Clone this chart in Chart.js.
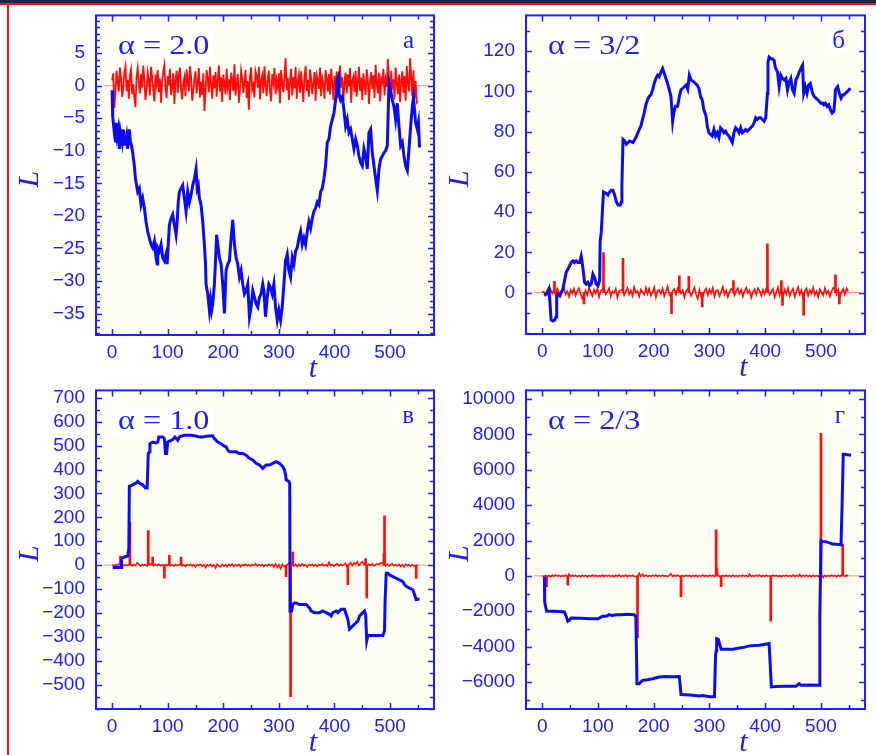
<!DOCTYPE html>
<html lang="ru">
<head>
<meta charset="UTF-8">
<title>L(t) для разных alpha</title>
<script src="https://cdn.jsdelivr.net/npm/chart.js"></script>
<style>
    body {
        margin: 0;
        width: 876px;
        height: 755px;
        background: #ffffff;
        position: relative;
        overflow: hidden;
    }
    .top-band { position: absolute; left: 0; top: 0; width: 876px; height: 3px; background: #1b2352; }
    .top-red { position: absolute; left: 0; top: 3px; width: 876px; height: 2px; background: #e8141c; }
    .left-red { position: absolute; left: 7px; top: 3px; width: 2px; height: 752px; background: #e8141c; }
    canvas { position: absolute; }
</style>
</head>
<body>
<div class="top-band"></div>
<div class="top-red"></div>
<div class="left-red"></div>

<canvas id="panelA" width="438" height="380" style="left:6px; top:1px;"></canvas>
<canvas id="panelB" width="439" height="379" style="left:436px; top:1px;"></canvas>
<canvas id="panelC" width="438" height="379" style="left:6px; top:376px;"></canvas>
<canvas id="panelD" width="439" height="379" style="left:436px; top:376px;"></canvas>

<script>
// ---- data ----
// common time axis
const X_RANGE = [-29, 579];
const X_TICKS = [0, 100, 200, 300, 400, 500];
const ZERO_SPAN = [-15, 570];   // extent of the thin L = 0 reference line

// (a) alpha = 2.0
const yTicksA = [-35, -30, -25, -20, -15, -10, -5, 0, 5];
const blueA = [
    [0,-0.7],[1,-4.7],[4,-7.2],[6,-8.7],[7,-5.7],[9,-7.7],[11,-6.7],[13,-9.7],[15,-7.2],[18,-8.7],
    [20,-6.7],[22,-8.2],[23,-9.2],[26,-7.7],[28,-9.7],[31,-6.7],[33,-8.7],[35,-9.2],[37,-10.3],[40,-12.3],
    [42,-14.3],[43,-14.8],[46,-16.3],[49,-15.8],[52,-18.3],[55,-17.3],[58,-18.8],[61,-20.9],[64,-22.4],[67,-23.4],
    [70,-24.4],[73,-24.9],[76,-23.9],[79,-26.4],[81,-27.4],[82,-24.9],[85,-25.4],[88,-24.4],[91,-26.4],[94,-26.9],
    [97,-25.9],[99,-27.4],[101,-24.4],[103,-21.4],[106,-20.4],[109,-19.8],[112,-21.4],[115,-22.9],[117,-20.9],[119,-17.8],
    [121,-16.3],[124,-15.8],[127,-15.3],[130,-17.3],[133,-19.3],[136,-16.3],[139,-17.9],[142,-16.8],[145,-15.3],[148,-14.3],
    [151,-12.8],[153,-15.8],[155,-15.3],[157,-17.3],[160,-18.3],[163,-20.9],[166,-24.4],[168,-27.4],[169,-30.5],[172,-32.0],
    [175,-34.5],[177,-32.9],[179,-34.5],[181,-33.5],[184,-30.5],[186,-26.9],[188,-22.9],[190,-24.4],[193,-26.4],[196,-27.4],
    [199,-30.5],[202,-35.0],[205,-28.4],[208,-27.4],[211,-26.9],[214,-23.4],[217,-20.6],[220,-24.4],[223,-26.4],[226,-27.4],
    [229,-29.4],[232,-28.4],[235,-30.5],[238,-32.0],[241,-31.5],[244,-30.5],[247,-35.5],[250,-34.0],[253,-31.5],[256,-32.5],
    [259,-33.5],[262,-34.0],[265,-32.5],[268,-32.0],[271,-30.5],[273,-31.5],[276,-35.5],[279,-32.5],[282,-30.5],[285,-31.0],
    [288,-32.0],[291,-30.5],[294,-34.0],[297,-36.0],[300,-34.5],[303,-36.0],[306,-34.0],[309,-30.5],[312,-26.9],[315,-25.9],
    [318,-28.4],[321,-29.4],[324,-26.4],[327,-27.4],[330,-25.4],[333,-24.9],[336,-23.4],[339,-22.4],[342,-24.4],[345,-23.4],
    [348,-24.4],[351,-22.4],[354,-20.9],[357,-21.9],[360,-20.4],[363,-19.3],[366,-18.8],[369,-17.9],[372,-18.3],[375,-16.3],
    [378,-15.8],[381,-14.3],[384,-12.3],[387,-8.7],[390,-8.2],[393,-6.2],[396,-5.2],[399,-4.2],[402,-2.2],[405,0.9],
    [407,1.4],[408,-1.2],[411,-2.2],[414,-1.7],[417,-3.7],[420,-6.2],[423,-5.2],[426,-7.2],[429,-6.7],[432,-8.2],
    [435,-9.7],[438,-8.2],[441,-9.2],[444,-10.8],[447,-11.8],[450,-12.3],[453,-9.7],[456,-10.8],[459,-12.8],[462,-7.2],
    [465,-6.7],[468,-10.3],[471,-12.3],[474,-14.3],[477,-16.1],[480,-12.8],[483,-11.3],[486,-10.8],[489,-10.3],[492,-10.0],
    [495,-9.2],[498,0.4],[501,-0.7],[504,-2.2],[507,-3.2],[510,-5.2],[513,-2.7],[516,-6.2],[519,-9.2],[522,-8.7],
    [525,-10.8],[528,-12.3],[531,-13.0],[534,-9.7],[537,-6.2],[540,-3.2],[542,-1.9],[544,-3.7],[546,-5.7],[549,-6.7],
    [551,-5.7],[553,-9.5]
];
const dtA = 2;
const redA = [
    0.8, 1.9, -3.4, -1.1, 2.3, 0.6, -0.9, 2.8, 1.2, -1.7, -0.4, 2.1, 3.0, -0.8, 0.9, -2.0, 1.6, 2.5, -1.3, 0.2,
    -1.8, -3.3, 1.4, 2.7, 0.5, -1.2, 1.8, -0.3, 3.1, 1.0, -2.2, -0.6, 2.0, 0.8, -1.5, 2.9, 1.3, -0.7, -2.4, 1.7,
    0.3, 2.4, -1.0, 1.1, -2.6, 0.7, 2.2, 3.2, -0.5, -1.9, 1.5, 0.1, 2.6, -1.4, -0.2, 1.9, -2.8, 0.9, 2.3, -1.1,
    1.6, 2.8, -0.6, -2.1, 0.4, 1.3, -1.6, 2.5, 0.7, -0.9, 3.0, 1.4, -2.3, -0.8, 1.0, 2.2, -1.2, 0.5, 2.7, -1.8,
    0.6, -1.4, 1.9, -3.9, -0.7, 2.4, 1.1, -1.0, 2.9, 0.2, -2.0, 1.6, -0.4, 2.1, -1.7, 0.8, 3.1, -0.9, 1.3, -2.5,
    1.7, 0.4, -1.3, 2.6, -0.2, 1.0, -2.2, 2.0, 0.9, -0.8, 3.3, -1.5, 0.3, 1.8, -2.6, -0.5, 2.3, 1.2, -1.1, 0.6,
    2.4, -1.9, 0.7, -3.7, 1.5, 2.8, -0.6, 0.1, -1.8, 2.2, 1.4, -0.3, 2.9, -2.1, 0.8, 1.6, -1.2, 3.0, 0.2, -1.6,
    1.1, 2.3, -0.9, -2.4, 1.8, 0.5, 2.7, -1.3, 0.9, -0.2, 1.9, -2.7, 2.4, 0.3, -1.0, 1.5, 4.2, -0.7, 1.2, -2.2,
    0.7, 2.6, -1.5, 1.3, -0.4, 2.9, -2.0, 0.6, 1.7, -1.1, 2.2, 0.0, -2.5, 1.4, 3.0, -0.8, 0.9, -1.7, 2.5, 1.0,
    -1.3, 0.4, 2.1, -2.3, 1.6, 0.8, -0.5, 2.8, -1.6, 1.2, 0.3, -2.0, 2.4, 1.1, -0.9, 1.8, -1.4, 2.6, 0.5, -2.2,
    1.5, -0.6, 2.2, -1.9, 0.9, 3.1, -0.3, 1.3, -2.4, 0.6, 2.0, -1.2, 1.7, -0.1, 2.7, -2.6, 0.8, 1.4, -1.0, 2.3,
    -1.7, 0.5, 2.9, -0.8, 1.2, -2.2, 1.9, 0.2, -1.4, 2.5, 1.0, -2.8, 0.7, 2.1, -0.5, 1.6, -1.9, 3.2, 0.4, -1.2,
    2.0, -2.4, 1.1, 0.6, 2.6, -1.5, 0.9, -0.2, 4.1, 1.3, -1.8, 2.3, -0.6, 1.0, -2.1, 2.8, 0.4, -1.3, 1.7, -2.5,
    0.8, 2.2, -1.1, 1.5, -2.3, 3.0, 0.6, -0.9, 4.2, 1.2, -1.6, 2.4, -2.0, 0.7, -2.6, -2.4
];
const spikesA = [];

// (б) alpha = 3/2
const yTicksB = [0, 20, 40, 60, 80, 100, 120];
const blueB = [
    [4,-1.5],[8,-0.5],[12,1.8],[14,-5],[16,-13.7],[19,-14.2],[22,-13.7],[25,-12.1],[26,-2.3],[28,-0.7],
    [31,-1.5],[37,1.5],[40,5.9],[43,10],[46,11.6],[49,13.2],[52,14.9],[55,15.7],[58,14.9],[61,15.7],
    [64,14.9],[67,14.9],[70,18.1],[73,12.4],[76,5.1],[79,4.2],[82,5.1],[85,3.4],[88,4.2],[91,9.2],
    [94,7.5],[97,4.2],[100,3.4],[103,5.9],[104,25.5],[106,30],[108,40.2],[110,50],[115,49.2],[118,48.4],
    [121,50],[124,50.8],[127,50.8],[130,48.4],[133,45.1],[136,43.5],[140,43.5],[142,45],[143,53.3],[145,76.1],
    [148,75.3],[151,73.7],[157,75.3],[163,74.5],[168,77],[174,81],[177,82.7],[180,86],[183,89.2],[186,93.3],
    [189,95.8],[192,97.4],[195,98.2],[198,100.7],[201,103.9],[204,106.4],[207,108],[210,107.2],[213,109.6],[216,111.3],
    [219,108.8],[222,106.4],[225,103.9],[228,100.7],[231,97.4],[234,85.1],[236,89.2],[239,92.5],[243,92.5],[246,97.4],
    [249,100.7],[252,101.5],[258,103.1],[261,101],[264,108],[267,105.6],[272,104.7],[278,103.1],[281,101.5],[284,97.4],
    [287,95.8],[290,90.8],[294,87.6],[296,82.7],[299,79.4],[302,78.6],[305,77.8],[308,81],[311,77.8],[314,79.4],
    [317,77],[320,81.9],[323,81],[326,79.4],[329,80.2],[332,78.6],[335,77.8],[338,76.1],[341,74.5],[344,79.4],
    [347,81.9],[350,81],[353,79.4],[356,81.9],[359,79.4],[362,80.2],[365,81],[368,80.2],[371,81],[374,81.9],
    [377,82.7],[380,84.3],[383,86.8],[386,86],[389,86.8],[392,86.8],[395,86],[398,85.1],[401,86.8],[404,99],
    [405,114.5],[407,117],[410,116.2],[413,116.2],[416,115.4],[418,112],[422,109.6],[425,102.3],[428,108],[431,106.4],
    [434,105.6],[437,106.4],[440,100.7],[443,104.7],[446,106.4],[449,100.7],[452,99],[455,105.6],[458,107.2],[461,109.6],
    [464,111.3],[467,112.9],[469,99],[472,102.3],[475,99],[478,103.1],[481,103.9],[485,99],[488,97.4],[491,96.6],
    [494,95.8],[497,95],[500,94.1],[503,94.1],[505,93.3],[508,94.1],[511,92.5],[514,93.3],[517,90.8],[520,89.2],
    [523,90],[525,95.8],[526,100.7],[530,102.3],[533,99],[536,96.6],[539,98.2],[541,98.2],[544,99],[547,99.8],
    [550,100.7],[553,101.5]
];
const dtB = 3;
const redB = [
    0.0, 0.5, -1.2, 0.8, -2.3, 1.5, -0.6, 1.2, -1.4, 2.0, 0.3, -1.8, 1.1, 2.4, -0.9, 0.6, -2.1, 1.3, -0.4, 1.9,
    -1.5, 0.7, 2.2, -0.8, -3.0, -1.6, 1.0, -1.2, 2.5, 0.2, -1.7, 1.4, -0.5, 2.0, -2.2, 0.9, 1.6, 2.1, -1.0, 0.4,
    2.1, -1.9, 0.6, -0.3, 1.8, -2.5, 0.8, 1.2, 1.5, -1.4, 0.5, 2.3, -0.9, 1.0, -1.6, 2.8, -0.2, 0.7, -2.0, 1.5,
    0.3, -1.1, 2.4, -0.7, 1.9, -1.5, 0.1, 2.6, -2.3, 0.9, 1.3, -0.6, 2.0, -1.8, 0.4, 3.0, -1.2, -2.1, 0.8, 1.7,
    -1.0, 2.2, 1.3, -0.5, 1.1, -2.4, 0.6, 1.8, 1.0, -1.6, 0.2, 2.5, -0.8, -3.1, 1.4, -1.9, -2.2, 0.7, 2.0, -1.3,
    1.6, -0.4, 2.3, -2.0, 0.9, 1.2, -1.7, 0.5, 2.8, -0.9, 1.0, -2.2, 0.3, 1.9, 1.1, -1.4, 0.8, 2.1, -0.6, 1.4,
    -1.9, 0.6, 2.4, -0.3, 1.1, -2.6, 0.4, 1.7, -1.0, 2.2, 0.9, -1.5, 1.3, -0.7, 2.0, 1.4, -1.1, 0.5, 1.8, -2.4,
    0.2, 2.6, -1.3, 1.5, -1.9, 1.5, -0.8, 2.3, -1.7, 0.6, 1.9, -2.1, 0.4, 2.7, -0.9, 1.2, -2.8, 0.8, 2.0, -1.5,
    1.3, -0.5, 2.5, -1.2, 0.7, -2.3, 1.6, 0.1, -1.4, 2.2, -0.6, 1.0, -1.9, 0.5, 2.4, 1.7, -0.9, 1.5, -2.0, 0.3,
    1.8, -1.0, 2.1, 0.6
];
const spikesB = [
    [22, 5.6], [75, -5.6], [110, 19.8], [145, 17.0], [232, -10.5], [246, 8.3], [263, 8.0],
    [287, -7.2], [343, 5.9], [404, 24.2], [429, 5.9], [431, -6.4], [469, -11.3], [526, 8.8], [533, -5.6]
];

// (в) alpha = 1.0
const yTicksC = [-500, -400, -300, -200, -100, 0, 100, 200, 300, 400, 500, 600, 700];
const blueC = [
    [1,-10],[16,-10],[17,27],[22,34],[28,38],[30,69],[31,330],[34,333],[40,340],[43,343],
    [46,350],[49,343],[55,336],[60,323],[63,323],[65,467],[67,474],[68,508],[73,515],[79,511],
    [82,515],[84,536],[86,536],[91,536],[94,529],[96,467],[98,467],[100,515],[106,522],[109,525],
    [113,536],[118,522],[121,536],[124,539],[130,543],[136,543],[142,543],[151,540],[157,536],[163,536],
    [169,539],[175,540],[181,541],[184,529],[190,515],[196,508],[199,502],[205,495],[208,481],[211,474],
    [217,474],[223,474],[229,467],[235,467],[241,460],[247,447],[253,440],[259,426],[265,419],[271,405],
    [274,412],[277,419],[283,419],[289,426],[295,433],[301,426],[304,419],[307,412],[310,398],[312,378],
    [313,357],[318,350],[319.5,340],[320,-192],[323,-192],[325,-165],[328,-158],[331,-158],[337,-165],[343,-165],
    [349,-165],[355,-179],[358,-192],[364,-199],[373,-199],[379,-192],[385,-199],[391,-206],[394,-213],[397,-199],
    [403,-192],[406,-199],[412,-185],[418,-185],[421,-206],[424,-227],[427,-268],[430,-261],[433,-254],[436,-247],
    [439,-240],[442,-234],[445,-213],[448,-206],[451,-199],[454,-192],[456,-206],[458,-316],[460,-295],[463,-295],
    [469,-295],[475,-295],[484,-295],[487,-295],[490,-275],[491,-151],[493,-34],[496,-34],[499,-41],[505,-48],
    [511,-55],[517,-62],[523,-69],[526,-82],[529,-89],[535,-96],[541,-103],[544,-124],[547,-144],[553,-142]
];
const dtC = 3;
const redC = [
    0, -2, 2, -3, 4, 2, 3, -2, 1, -2, 3, 5, -3, 2, -2, 10, 3, -4, 2, -1,
    3, -4, 6, 2, 8, -3, 4, -2, 5, -3, 2, -6, 3, -2, 4, -3, 2, -5, 3, -2,
    2, 5, -3, 2, -6, 3, -2, 4, -4, 2, -8, 3, -2, 4, -5, 2, -10, 2, -3, 3,
    -6, 2, -12, 4, -3, -8, 3, -5, 2, -7, 3, -3, 5, -6, 2, -4, 3, -7, 2, -2,
    4, -3, 2, -5, 3, -2, 6, -4, 2, -3, 3, -6, 2, -4, 4, -2, 3, -8, 5, -10,
    2, -15, 4, -6, -5, 3, 8, -10, 5, -5, 4, -7, 3, -4, 5, -3, 2, -9, 3, -2,
    4, -4, 2, -6, 3, -2, 5, -3, 2, -4, 12, -2, 3, -5, 2, 6, -3, 4, -2, 2,
    8, -5, 3, 12, -2, 10, 4, 14, -2, 8, 15, 3, 6, -4, 4, -2, 5, -4, 2, 6,
    3, 10, 8, 12, -3, 4, -5, 2, 6, -3, 2, -4, 3, -6, 2, -8, 4, -3, 2, -5,
    2, -4, -5, 2
];
const spikesC = [
    [15, 38], [32, 179], [65, 144], [73, 34], [94, -55], [103, 41], [124, 34], [313, -48],
    [321, -550], [325, 55], [424, -82], [456, 27], [458, -137], [489, 48], [490, 206], [547, -55]
];

// (г) alpha = 2/3
const yTicksD = [-6000, -4000, -2000, 0, 2000, 4000, 6000, 8000, 10000];
const blueD = [
    [4,-56],[4.5,-1450],[6,-1700],[8,-2007],[20,-2007],[30,-2020],[40,-2045],[43,-2286],[46,-2565],[49,-2500],
    [52,-2379],[70,-2400],[85,-2420],[100,-2420],[103,-2379],[108,-2290],[115,-2290],[120,-2193],[125,-2240],[133,-2200],
    [142,-2193],[152,-2170],[165,-2193],[168,-2300],[170,-6097],[174,-6097],[180,-5911],[189,-5870],[198,-5818],[210,-5725],
    [222,-5690],[234,-5700],[246,-5688],[249,-6710],[258,-6720],[270,-6747],[282,-6790],[288,-6770],[300,-6840],[309,-6840],
    [311,-4500],[312,-4238],[313,-3550],[316,-3587],[321,-4145],[330,-4145],[342,-4145],[354,-4080],[363,-4030],[372,-3959],
    [390,-3920],[407,-3829],[409,-5000],[411,-6283],[420,-6260],[437,-6245],[455,-6245],[461,-6100],[464,-6190],[480,-6170],
    [497,-6190],[498,-2379],[500,1989],[503,1950],[509,1933],[521,1800],[533,1780],[536,1747],[538,4126],[540,6877],
    [545,6860],[554,6822]
];
const dtD = 3;
const redD = [
    0, -40, 30, -80, 20, -50, 40, -30, 60, -20, 30, -45, 25, -35, 50, -90, 110, -30, 40, -25,
    35, -40, 20, -55, 45, -20, 30, -60, 25, -35, 50, -25, 40, -45, 20, -30, 55, -40, 30, -20,
    45, -35, 25, -50, 35, -25, 60, -40, 20, -30, 45, -55, 30, -20, 40, -35, -40, -60, 150, -40,
    110, -30, 50, -45, 25, -35, 40, -20, 55, -40, 30, -25, 45, -30, 20, -50, 35, 130, -30, 40,
    -25, 50, -35, -80, 30, -40, 45, -20, 35, -55, 25, -30, 40, -45, 20, -35, 50, -25, 30, -40,
    45, -20, 35, -50, 80, 60, -40, -70, 30, -25, 40, -35, 25, -45, 50, -30, 20, -40, 35, -25,
    45, -30, 30, -50, 100, -40, 25, -35, 40, -20, 55, -45, 30, -25, 40, -35, 20, -60, 45, -30,
    35, -40, 25, -50, 30, -20, 45, -35, 20, -30, 50, -40, 35, -25, 80, -45, 30, -20, 40, -35,
    25, -50, 45, -30, 20, -40, 60, 60, -100, 35, -45, 25, -30, 40, -20, 30, -50, 35, -25, 45,
    40, -30, 40, -20
];
const spikesD = [
    [8, -613], [46, -520], [171, -3494], [249, -1171], [312, 2602], [313.5, 450],
    [321, -613], [410, -2565], [500, 8067], [539, 1803]
];

// ---- styling ----
const BLUE = '#0c0cf2';
const RED = '#ff0c0c';
const ZERO_COLOR = '#ff8c8c';
const FRAME = '#1e1eff';
const TEXT = '#2020f0';
const PLOT_BG = '#fdfdf3';
const SANS = '"Liberation Sans", Arial, sans-serif';
const SERIF = '"Liberation Serif", "Times New Roman", serif';

function pairs(arr) {
    return arr.map(p => ({ x: p[0], y: p[1] }));
}

function sampled(vals, dt) {
    return vals.map((v, i) => ({ x: i * dt, y: v }));
}

function tickText(v) {
    return String(v).replace('-', '\u2212');
}

// background, frame with inward ticks on all sides, panel labels
const decoPlugin = {
    id: 'deco',
    beforeDraw(chart, args, o) {
        const { ctx, chartArea: a } = chart;
        ctx.save();
        ctx.fillStyle = PLOT_BG;
        ctx.fillRect(a.left, a.top, a.right - a.left, a.bottom - a.top);
        ctx.fillStyle = '#ffffff';
        ctx.fillRect(a.left + 17, a.top + 16, 100, 30);
        ctx.fillRect(a.right - 36, a.top + 17, 18, 20);
        ctx.restore();
    },
    afterDraw(chart, args, o) {
        const { ctx, chartArea: a, scales: { x, y } } = chart;
        ctx.save();
        ctx.strokeStyle = FRAME;
        ctx.lineWidth = 1.5;
        ctx.beginPath();
        for (let k = Math.ceil(y.min / o.yMinor); k * o.yMinor <= y.max; k++) {
            const v = k * o.yMinor;
            const py = Math.round(y.getPixelForValue(v)) + 0.5;
            const len = o.yTicks.includes(v) ? 6 : 4;
            ctx.moveTo(a.left, py); ctx.lineTo(a.left + len, py);
            ctx.moveTo(a.right, py); ctx.lineTo(a.right - len, py);
        }
        for (let k = Math.ceil(x.min / o.xMinor); k * o.xMinor <= x.max; k++) {
            const v = k * o.xMinor;
            const px = Math.round(x.getPixelForValue(v)) + 0.5;
            const len = X_TICKS.includes(v) ? 6 : 4;
            ctx.moveTo(px, a.bottom); ctx.lineTo(px, a.bottom - len);
            ctx.moveTo(px, a.top); ctx.lineTo(px, a.top + len);
        }
        ctx.stroke();

        ctx.lineWidth = 2;
        ctx.strokeRect(a.left, a.top, a.right - a.left, a.bottom - a.top);

        ctx.fillStyle = TEXT;
        ctx.textBaseline = 'alphabetic';

        // alpha label, slightly wide like the original lettering
        ctx.save();
        ctx.translate(a.left + 22, a.top + 39);
        ctx.scale(1.15, 1);
        ctx.font = '28px ' + SERIF;
        ctx.textAlign = 'left';
        ctx.fillText(o.alpha, 0, 0);
        ctx.restore();

        ctx.font = '25px ' + SERIF;
        ctx.textAlign = 'right';
        ctx.fillText(o.letter, a.right - 20, a.top + 33);

        ctx.font = 'italic 30px ' + SERIF;
        ctx.textAlign = 'center';
        ctx.fillText('t', (a.left + a.right) / 2 + 48, a.bottom + 42);

        ctx.translate(a.left - 66, (a.top + a.bottom) / 2 + 4);
        ctx.rotate(-Math.PI / 2);
        ctx.textBaseline = 'middle';
        ctx.fillText('L', 0, 0);
        ctx.restore();
    }
};

function makePanel(id, cfg) {
    new Chart(document.getElementById(id), {
        type: 'line',
        data: {
            datasets: [
                { data: pairs(cfg.blue), borderColor: BLUE, borderWidth: 3, pointRadius: 0, tension: 0 },
                { data: sampled(cfg.red, cfg.dt), borderColor: RED, borderWidth: cfg.redWidth, pointRadius: 0, tension: 0 },
                {
                    type: 'bar',
                    data: pairs(cfg.spikes),
                    backgroundColor: RED,
                    borderWidth: 0,
                    barThickness: 2
                },
                {
                    data: [{ x: ZERO_SPAN[0], y: 0 }, { x: ZERO_SPAN[1], y: 0 }],
                    borderColor: ZERO_COLOR, borderWidth: 1, pointRadius: 0
                }
            ]
        },
        options: {
            responsive: false,
            animation: false,
            events: [],
            layout: { padding: { top: 10, right: 10, left: 0, bottom: 0 } },
            plugins: {
                legend: { display: false },
                tooltip: { enabled: false },
                deco: {
                    alpha: cfg.alpha,
                    letter: cfg.letter,
                    yTicks: cfg.yTicks,
                    yMinor: cfg.yMinor,
                    xMinor: 50
                }
            },
            scales: {
                x: {
                    type: 'linear',
                    offset: false,
                    min: X_RANGE[0],
                    max: X_RANGE[1],
                    grid: { display: false },
                    border: { display: false },
                    afterBuildTicks: s => { s.ticks = X_TICKS.map(v => ({ value: v })); },
                    afterFit: s => { s.height = 46; },
                    ticks: {
                        color: TEXT,
                        font: { family: SANS, size: 19 },
                        padding: -2,
                        maxRotation: 0,
                        autoSkip: false,
                        callback: tickText
                    }
                },
                y: {
                    type: 'linear',
                    min: cfg.yRange[0],
                    max: cfg.yRange[1],
                    grid: { display: false },
                    border: { display: false },
                    afterBuildTicks: s => { s.ticks = cfg.yTicks.map(v => ({ value: v })); },
                    afterFit: s => { s.width = 90; },
                    ticks: {
                        color: TEXT,
                        font: { family: SANS, size: 19 },
                        padding: 3,
                        autoSkip: false,
                        callback: tickText
                    }
                }
            }
        },
        plugins: [decoPlugin]
    });
}

makePanel('panelA', { blue: blueA, red: redA, dt: dtA, redWidth: 1.8, spikes: spikesA, yTicks: yTicksA, yRange: [-38.3, 10.8], yMinor: 1, alpha: 'α = 2.0', letter: 'а' });
makePanel('panelB', { blue: blueB, red: redB, dt: dtB, redWidth: 1.6, spikes: spikesB, yTicks: yTicksB, yRange: [-20.6, 137.7], yMinor: 10, alpha: 'α = 3/2', letter: 'б' });
makePanel('panelC', { blue: blueC, red: redC, dt: dtC, redWidth: 1.4, spikes: spikesC, yTicks: yTicksC, yRange: [-602, 731], yMinor: 50, alpha: 'α = 1.0', letter: 'в' });
makePanel('panelD', { blue: blueD, red: redD, dt: dtD, redWidth: 1.4, spikes: spikesD, yTicks: yTicksD, yRange: [-7530, 10490], yMinor: 1000, alpha: 'α = 2/3', letter: 'г' });
</script>
</body>
</html>
